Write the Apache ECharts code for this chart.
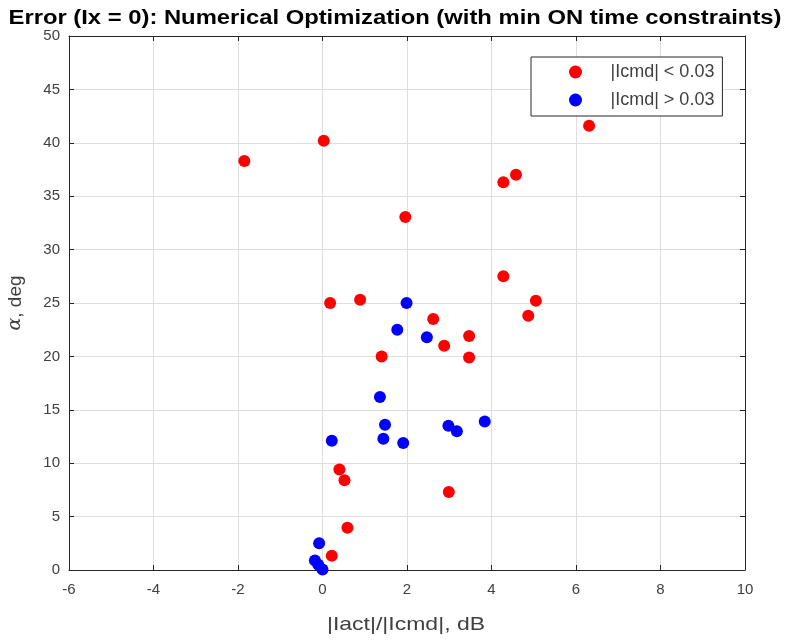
<!DOCTYPE html>
<html>
<head>
<meta charset="utf-8">
<script src="https://cdn.jsdelivr.net/npm/echarts@6/dist/echarts.min.js"></script>
<style>
  html, body { margin: 0; padding: 0; background: #fff; }
  #chart { width: 788px; height: 642px; }
</style>
</head>
<body>
<div id="chart"></div>
<script>
// |Icmd| < 0.03 (red)
var lowX = [-1.85, 0.03, 6.31, 4.28, 4.58, 1.96, 4.28, 0.18, 0.89, 2.62, 5.05, 4.87, 2.88, 3.47, 3.47, 1.40, 0.40, 0.52, 2.99, 0.59, 0.22];
var lowY = [38.3, 40.2, 41.6, 36.3, 37.0, 33.05, 27.5, 25.0, 25.3, 23.5, 25.2, 23.8, 21.0, 21.9, 19.9, 20.0, 9.4, 8.4, 7.3, 3.96, 1.34];
// |Icmd| > 0.03 (blue)
var highX = [1.99, 1.77, 2.47, 1.36, 1.48, 1.44, 0.22, 1.91, 2.98, 3.18, 3.84, -0.08, -0.18, -0.1, 0.0];
var highY = [25.0, 22.5, 21.8, 16.2, 13.6, 12.3, 12.1, 11.9, 13.5, 13.0, 13.9, 2.5, 0.9, 0.5, 0.05];

var seriesNames = ['|Icmd| < 0.03', '|Icmd| > 0.03'];
var xTicks = { min: -6, max: 10, step: 2 };
var yTicks = { min: 0, max: 50, step: 5 };

function pairs(xs, ys) {
  return xs.map(function (x, i) { return [x, ys[i]]; });
}

var chart = echarts.init(document.getElementById('chart'));

var font = 'Liberation Sans, Arial, Helvetica, sans-serif';
var axisColor = '#262626';
var labelColor = '#404040';

function baseAxis(t) {
  return {
    type: 'value',
    min: t.min, max: t.max, interval: t.step,
    axisLine: { show: true, onZero: false, lineStyle: { color: axisColor, width: 1 } },
    axisTick: { show: true, inside: true, length: 5, lineStyle: { color: axisColor } },
    splitLine: { show: false }
  };
}

var xMain = baseAxis(xTicks);
xMain.position = 'bottom';
xMain.axisLabel = { color: labelColor, fontSize: 15, fontFamily: font, margin: 12 };
xMain.splitLine = { show: true, lineStyle: { color: '#dedede', width: 1 } };

var xTop = baseAxis(xTicks);
xTop.position = 'top';
xTop.axisLabel = { show: false };

var yMain = baseAxis(yTicks);
yMain.position = 'left';
yMain.axisLabel = { color: labelColor, fontSize: 15, fontFamily: font, margin: 9 };
yMain.splitLine = { show: true, lineStyle: { color: '#dedede', width: 1 } };
yMain.name = '{a|α}, deg';
yMain.nameLocation = 'middle';
yMain.nameGap = 44;
yMain.nameTextStyle = {
  color: labelColor, fontSize: 19, fontFamily: font,
  rich: { a: { fontStyle: 'italic', fontFamily: 'DejaVu Serif, serif', fontSize: 19, color: labelColor } }
};

var yRight = baseAxis(yTicks);
yRight.position = 'right';
yRight.axisLabel = { show: false };

var option = {
  backgroundColor: '#ffffff',
  animation: false,
  // title and x label are drawn a bit wider, like the MATLAB export
  graphic: [
    {
      type: 'text', x: 395, y: 18, scaleX: 1.19,
      style: {
        text: 'Error (Ix = 0): Numerical Optimization (with min ON time constraints)',
        x: 0, y: 0, textAlign: 'center', textVerticalAlign: 'middle',
        font: 'bold 20px Liberation Sans, Arial, sans-serif', fill: '#000'
      }
    },
    {
      type: 'text', x: 406, y: 625, scaleX: 1.21,
      style: {
        text: '|Iact|/|Icmd|, dB',
        x: 0, y: 0, textAlign: 'center', textVerticalAlign: 'middle',
        font: '19px Liberation Sans, Arial, sans-serif', fill: labelColor
      }
    }
  ],
  legend: {
    orient: 'vertical',
    left: 531, top: 57,
    padding: [6, 8, 7, 38],
    itemWidth: 60, itemHeight: 13, itemGap: 10,
    icon: 'circle',
    borderColor: axisColor, borderWidth: 1,
    backgroundColor: '#fff',
    textStyle: { color: labelColor, fontSize: 18, fontFamily: font },
    data: seriesNames
  },
  grid: { left: 69, right: 43, top: 36, bottom: 72, containLabel: false, outerBoundsMode: 'none' },
  xAxis: [xMain, xTop],
  yAxis: [yMain, yRight],
  series: [
    {
      name: seriesNames[0], type: 'scatter', symbolSize: 12,
      itemStyle: { color: '#ff0000', opacity: 1 },
      data: pairs(lowX, lowY)
    },
    {
      name: seriesNames[1], type: 'scatter', symbolSize: 12,
      itemStyle: { color: '#0000ff', opacity: 1 },
      data: pairs(highX, highY)
    }
  ]
};

chart.setOption(option);
</script>
</body>
</html>
